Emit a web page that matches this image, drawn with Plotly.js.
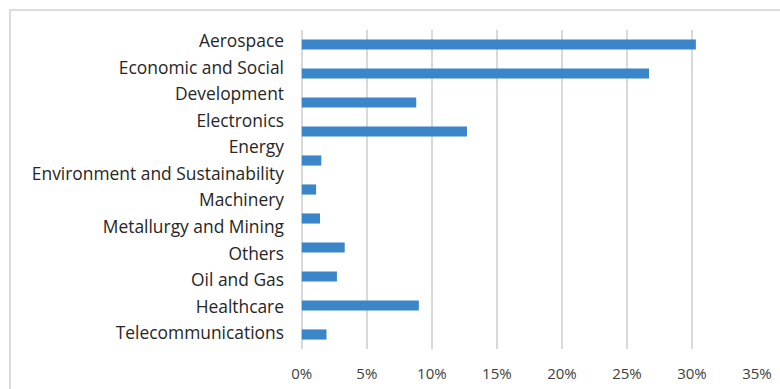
<!DOCTYPE html>
<html>
<head>
<meta charset="utf-8">
<script src="https://cdn.plot.ly/plotly-3.0.1.min.js"></script>
<style>
  html, body { margin: 0; padding: 0; background: #ffffff; overflow: hidden; }
  #chart { position: absolute; left: 0; top: 0; width: 780px; height: 389px; }
  #frame { position: absolute; left: 9px; top: 9px; width: 800px; height: 400px;
           border: 2px solid #dcdcdc; pointer-events: none; box-sizing: border-box; }
</style>
</head>
<body>
<div id="chart"></div>
<div id="frame"></div>
<script>
// Categories (one per bar) and their shares (%)
const categories = [
  "Aerospace",
  "Economic and Social Development",
  "Electronics",
  "Energy",
  "Environment and Sustainability",
  "Machinery",
  "Metallurgy and Mining",
  "Others",
  "Oil and Gas",
  "Healthcare",
  "Telecommunications"
];
const values = [30.3, 26.7, 8.8, 12.7, 1.5, 1.1, 1.4, 3.3, 2.7, 9.0, 1.9];

// Axis label lines as they appear on the chart (label text wrapped onto 12 lines)
const labelLines = [
  "Aerospace",
  "Economic and Social",
  "Development",
  "Electronics",
  "Energy",
  "Environment and Sustainability",
  "Machinery",
  "Metallurgy and Mining",
  "Others",
  "Oil and Gas",
  "Healthcare",
  "Telecommunications"
];

const xTickVals = [0, 5, 10, 15, 20, 25, 30, 35];
const xTickText = ["0%", "5%", "10%", "15%", "20%", "25%", "30%", "35%"];

const lineIdx = labelLines.map((_, i) => i);

const data = [
  {
    type: "bar",
    orientation: "h",
    x: values,
    y: categories,
    marker: { color: "#3a86c8" },
    hoverinfo: "x+y",
    showlegend: false
  },
  {
    type: "scatter",
    mode: "markers",
    x: lineIdx.map(() => null),
    y: lineIdx,
    yaxis: "y2",
    hoverinfo: "skip",
    showlegend: false
  }
];

const layout = {
  width: 780,
  height: 389,
  margin: { l: 301, r: 23, t: 30, b: 40, pad: 0 },
  paper_bgcolor: "#ffffff",
  plot_bgcolor: "#ffffff",
  font: { family: "Open Sans, Noto Sans, sans-serif", color: "#262626" },
  bargap: 0.65,
  xaxis: {
    range: [-0.06, 35],
    tickmode: "array",
    tickvals: xTickVals,
    ticktext: xTickText,
    showgrid: true,
    gridcolor: "#d9d9d9",
    gridwidth: 1.5,
    zeroline: true,
    zerolinecolor: "#d9d9d9",
    zerolinewidth: 1.5,
    showline: false,
    ticks: "",
    ticklabelstandoff: 14,
    tickfont: { size: 15, color: "#404040" },
    fixedrange: true
  },
  yaxis: {
    type: "category",
    categoryorder: "array",
    categoryarray: categories,
    range: [10.5, -0.5],
    showticklabels: false,
    showgrid: false,
    zeroline: false,
    showline: false,
    ticks: "",
    fixedrange: true
  },
  yaxis2: {
    overlaying: "y",
    anchor: "x",
    side: "left",
    range: [11.6, -0.42],
    tickmode: "array",
    tickvals: lineIdx,
    ticktext: labelLines,
    showgrid: false,
    zeroline: false,
    showline: false,
    ticks: "",
    ticklabelstandoff: 16,
    tickfont: { size: 17.4, color: "#262626" },
    fixedrange: true
  }
};

Plotly.newPlot("chart", data, layout, { displayModeBar: false, staticPlot: true });
</script>
</body>
</html>
